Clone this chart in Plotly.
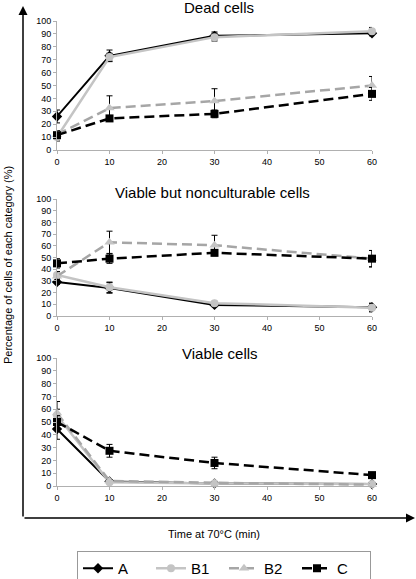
import plotly.graph_objects as go

time = [0, 10, 30, 60]
series_names = ["A", "B1", "B2", "C"]
panel_titles = ["Dead cells", "Viable but nonculturable cells", "Viable cells"]
x_ticks = [0, 10, 20, 30, 40, 50, 60]
y_ticks = [0, 10, 20, 30, 40, 50, 60, 70, 80, 90, 100]

dead_A = [26, 73, 88.5, 90.5]
dead_A_err = [5, 4.5, 3, 2]
dead_B1 = [10, 72, 87.5, 92]
dead_B1_err = [3, 3, 3, 3]
dead_B2 = [12, 32.5, 38, 50]
dead_B2_err = [3, 9.5, 9.5, 7]
dead_C = [11.5, 24.5, 28, 43.5]
dead_C_err = [2, 2, 3, 5]

vbnc_A = [29, 24, 9.5, 7.5]
vbnc_A_err = [2, 4.5, 1.5, 3.5]
vbnc_B1 = [35, 24.5, 11, 7]
vbnc_B1_err = [3, 4.5, 1.5, 3.5]
vbnc_B2 = [34, 63, 60.5, 49]
vbnc_B2_err = [4, 9.5, 8.5, 7]
vbnc_C = [45, 49, 54, 49]
vbnc_C_err = [4, 4, 2.5, 7]

viable_A = [44.5, 3.5, 2, 1.5]
viable_A_err = [8, 1, 0.5, 0.5]
viable_B1 = [55, 3, 2, 1.5]
viable_B1_err = [5, 1, 0.5, 0.5]
viable_B2 = [57, 4, 2.5, 1]
viable_B2_err = [9, 1, 0.5, 0.5]
viable_C = [50, 27.5, 18, 8.5]
viable_C_err = [5, 5, 4.5, 1]

panels = [
    [(dead_A, dead_A_err), (dead_B1, dead_B1_err), (dead_B2, dead_B2_err), (dead_C, dead_C_err)],
    [(vbnc_A, vbnc_A_err), (vbnc_B1, vbnc_B1_err), (vbnc_B2, vbnc_B2_err), (vbnc_C, vbnc_C_err)],
    [(viable_A, viable_A_err), (viable_B1, viable_B1_err), (viable_B2, viable_B2_err), (viable_C, viable_C_err)],
]

styles = {
    "A": dict(line=dict(color="black", width=2, dash="solid"),
              marker=dict(symbol="diamond", size=8, color="black")),
    "B1": dict(line=dict(color="#c4c4c4", width=2.5, dash="solid"),
               marker=dict(symbol="circle", size=8, color="#c4c4c4")),
    "B2": dict(line=dict(color="#a6a6a6", width=2.5, dash="10px,5px"),
               marker=dict(symbol="triangle-up", size=9, color="#c4c4c4")),
    "C": dict(line=dict(color="black", width=2.5, dash="10px,5px"),
              marker=dict(symbol="square", size=8, color="black")),
}

W, H = 416, 579
FONT = "Arial, Liberation Sans, sans-serif"

fig = go.Figure()

# pixel geometry of panels (y of value 0, y of value 100)
panel_px = [(150, 21), (316, 199), (486, 358)]
x0_px, x60_px = 57, 372

for pi, pdata in enumerate(panels):
    xa = "x" if pi == 0 else f"x{pi+1}"
    ya = "y" if pi == 0 else f"y{pi+1}"
    for si, (vals, errs) in enumerate(pdata):
        name = series_names[si]
        st = styles[name]
        fig.add_trace(go.Scatter(
            x=time, y=vals, name=name, mode="lines+markers",
            line=st["line"], marker=st["marker"],
            error_y=dict(type="data", array=errs, visible=True,
                         color="black", thickness=1, width=3),
            xaxis=xa, yaxis=ya, showlegend=(pi == 0), cliponaxis=False,
        ))

layout = dict(
    width=W, height=H,
    margin=dict(l=0, r=0, t=0, b=0, autoexpand=False),
    paper_bgcolor="white", plot_bgcolor="white",
    font=dict(family=FONT, size=9, color="black"),
    showlegend=True,
    legend=dict(orientation="h", x=77 / W, xanchor="left",
                y=1 - 551 / H, yanchor="top",
                bordercolor="#999999", borderwidth=1,
                font=dict(size=15, family=FONT),
                entrywidth=28, entrywidthmode="pixels",
                tracegroupgap=0),
)

for pi, (y0, y100) in enumerate(panel_px):
    sfx = "" if pi == 0 else str(pi + 1)
    layout["xaxis" + sfx] = dict(
        domain=[x0_px / W, x60_px / W], range=[0, 60], automargin=False,
        tickvals=x_ticks, ticks="outside", ticklen=3, tickcolor="#b0b0b0",
        showline=True, linecolor="#b0b0b0", linewidth=1,
        showgrid=False, zeroline=False,
        anchor="y" + sfx, tickfont=dict(size=9),
    )
    layout["yaxis" + sfx] = dict(
        domain=[1 - y0 / H, 1 - y100 / H], range=[0, 100], automargin=False,
        tickvals=y_ticks, ticks="outside", ticklen=3, tickcolor="#b0b0b0",
        showline=True, linecolor="#b0b0b0", linewidth=1,
        showgrid=False, zeroline=False,
        anchor="x" + sfx, tickfont=dict(size=9),
    )

fig.update_layout(**layout)

title_pos = [(219, 8), (213, 192), (220, 353)]
for t, (tx, ty) in zip(panel_titles, title_pos):
    fig.add_annotation(text=t, x=tx / W, y=1 - ty / H, xref="paper", yref="paper",
                       showarrow=False, xanchor="center", yanchor="middle",
                       font=dict(size=15, family=FONT))

# big axes arrows (tail offsets in pixels)
fig.add_annotation(x=23 / W, y=1 - 6 / H, ax=0, ay=512,
                   xref="paper", yref="paper", axref="pixel", ayref="pixel",
                   text="", showarrow=True, arrowhead=2, arrowsize=1.2,
                   arrowwidth=1.5, arrowcolor="black")
fig.add_annotation(x=415 / W, y=1 - 518 / H, ax=-392, ay=0,
                   xref="paper", yref="paper", axref="pixel", ayref="pixel",
                   text="", showarrow=True, arrowhead=2, arrowsize=1.2,
                   arrowwidth=1.5, arrowcolor="black")

fig.add_annotation(text="Time at 70°C (min)", x=214 / W, y=1 - 534 / H,
                   xref="paper", yref="paper", showarrow=False,
                   xanchor="center", yanchor="middle", font=dict(size=11, family=FONT))
fig.add_annotation(text="Percentage of cells of each category (%)", x=8 / W, y=1 - 265 / H,
                   xref="paper", yref="paper", showarrow=False, textangle=-90,
                   xanchor="center", yanchor="middle", font=dict(size=11, family=FONT))

fig.write_html("out.html", config={"displayModeBar": False},
               post_script="document.body.style.margin='0';document.body.style.overflow='hidden';")
